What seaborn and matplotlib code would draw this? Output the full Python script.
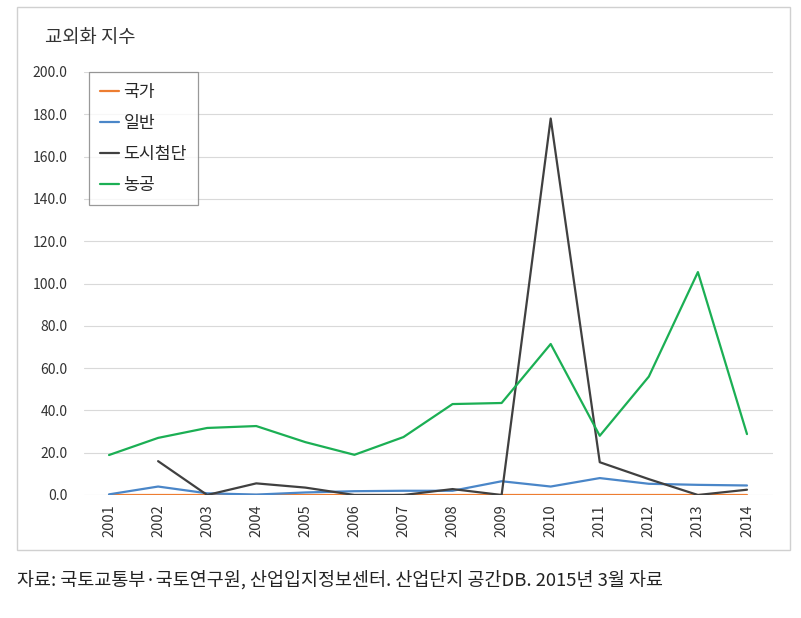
import matplotlib
matplotlib.use("Agg")
import matplotlib.pyplot as plt
import seaborn as sns
import pandas as pd
import numpy as np
from matplotlib.patches import Rectangle

years = list(range(2001, 2015))
series_names = ["국가", "일반", "도시첨단", "농공"]
gukga = [0.2] * 14
ilban = [0.3, 4.0, 0.8, 0.2, 1.2, 1.8, 2.0, 2.0, 6.5, 4.0, 8.0, 5.3, 4.8, 4.5]
dosi = [np.nan, 16.0, 0.0, 5.5, 3.5, 0.0, 0.0, 2.8, 0.0, 178.0, 15.5, 7.5, 0.0, 2.5]
nonggong = [18.9, 27.0, 31.7, 32.6, 25.0, 19.0, 27.4, 43.0, 43.5, 71.4, 28.0, 56.0, 105.4, 28.8]
colors = ["#ED7D31", "#4A86C8", "#404040", "#1BAF54"]
yticks = [0, 20, 40, 60, 80, 100, 120, 140, 160, 180, 200]

sns.set_theme(style="white")
plt.rcParams['font.family'] = ['Noto Sans CJK KR', 'DejaVu Sans']

df = pd.DataFrame({
    "year": years * 4,
    "value": gukga + ilban + dosi + nonggong,
    "series": sum([[s] * 14 for s in series_names], []),
})

fig = plt.figure(figsize=(8.01, 6.18), dpi=100)
fig.patches.append(Rectangle((17 / 801, 1 - 550 / 618), (790 - 17) / 801, (550 - 7) / 618,
                             transform=fig.transFigure, fill=False,
                             edgecolor="#D0D0D0", linewidth=1.0))
ax = fig.add_axes([84 / 801, 1 - 495 / 618, (773 - 84) / 801, (495 - 72) / 618])

sns.lineplot(data=df, x="year", y="value", hue="series", hue_order=series_names,
             palette=colors, linewidth=1.6, ax=ax)

ax.set_xlim(2000.49, 2014.53)
ax.set_ylim(0, 200)
ax.set_yticks(yticks)
ax.set_yticklabels([f"{v:.1f}" for v in yticks], fontsize=10, color="#333333")
ax.set_xticks(years)
ax.set_xticklabels([str(y) for y in years], rotation=90, fontsize=10.5, color="#333333")
ax.yaxis.grid(True, color="#D9D9D9", linewidth=0.8)
ax.xaxis.grid(False)
ax.set_axisbelow(True)
for s in ax.spines.values():
    s.set_visible(False)
ax.tick_params(axis="y", length=0, pad=12)
ax.tick_params(axis="x", length=0, pad=7)
ax.set_xlabel("")
ax.set_ylabel("")

leg = ax.legend(loc="upper left", bbox_to_anchor=(5 / 689, 1.0), fontsize=12.4,
                frameon=True, fancybox=False, handlelength=1.1, handletextpad=0.25,
                labelspacing=0.75, borderpad=0.65, borderaxespad=0)
leg.get_frame().set_edgecolor("#808080")
leg.get_frame().set_linewidth(0.9)
for l in leg.get_lines():
    l.set_linewidth(1.6)

fig.text(45 / 801, 1 - 37 / 618, "교외화 지수", fontsize=13.5, va="center", ha="left", color="#333333")
fig.text(17 / 801, 1 - 580 / 618, "자료: 국토교통부·국토연구원, 산업입지정보센터. 산업단지 공간DB. 2015년 3월 자료",
         fontsize=13.3, va="center", ha="left", color="#222222")

fig.savefig("out.png", dpi=100)
